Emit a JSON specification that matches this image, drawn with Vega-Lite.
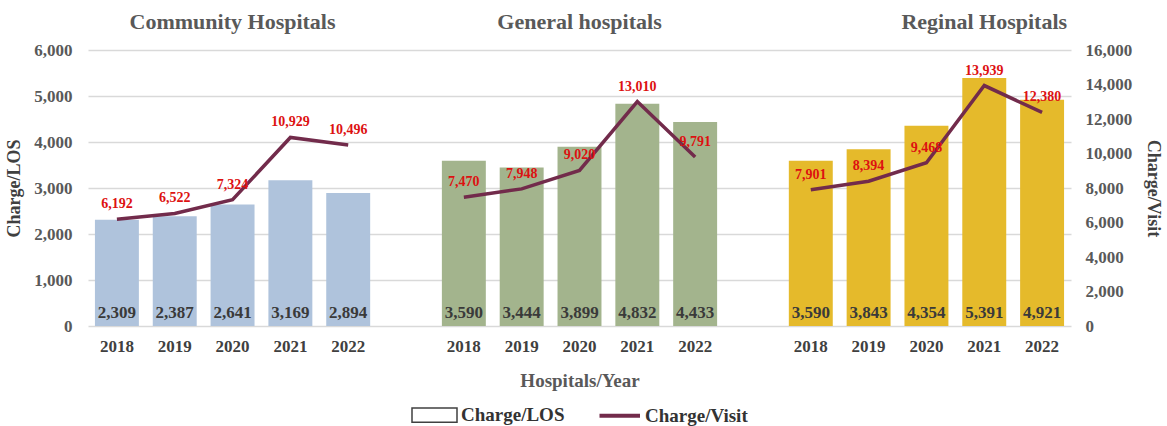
{
  "$schema": "https://vega.github.io/schema/vega-lite/v6.json",
  "width": 1167,
  "height": 426,
  "autosize": {"type": "fit", "contains": "padding"},
  "padding": {"left": 5, "right": 5, "top": 10, "bottom": 0},
  "background": "white",
  "config": {
    "font": "Liberation Serif",
    "view": {"stroke": null},
    "axis": {"labelFont": "Liberation Serif", "titleFont": "Liberation Serif"},
    "legend": {"layout": {"bottom": {"anchor": "middle"}}}
  },
  "datasets": {
    "main": [
      {"group": "Community", "year": "2018", "slot": "C2018", "los": 2309, "visit": 6192},
      {"group": "Community", "year": "2019", "slot": "C2019", "los": 2387, "visit": 6522},
      {"group": "Community", "year": "2020", "slot": "C2020", "los": 2641, "visit": 7324},
      {"group": "Community", "year": "2021", "slot": "C2021", "los": 3169, "visit": 10929},
      {"group": "Community", "year": "2022", "slot": "C2022", "los": 2894, "visit": 10496},
      {"group": "General", "year": "2018", "slot": "G2018", "los": 3590, "visit": 7470},
      {"group": "General", "year": "2019", "slot": "G2019", "los": 3444, "visit": 7948},
      {"group": "General", "year": "2020", "slot": "G2020", "los": 3899, "visit": 9020},
      {"group": "General", "year": "2021", "slot": "G2021", "los": 4832, "visit": 13010},
      {"group": "General", "year": "2022", "slot": "G2022", "los": 4433, "visit": 9791},
      {"group": "Regional", "year": "2018", "slot": "R2018", "los": 3590, "visit": 7901},
      {"group": "Regional", "year": "2019", "slot": "R2019", "los": 3843, "visit": 8394},
      {"group": "Regional", "year": "2020", "slot": "R2020", "los": 4354, "visit": 9468},
      {"group": "Regional", "year": "2021", "slot": "R2021", "los": 5391, "visit": 13939},
      {"group": "Regional", "year": "2022", "slot": "R2022", "los": 4921, "visit": 12380}
    ],
    "legendrows": [
      {"measure": "Charge/LOS"},
      {"measure": "Charge/Visit"}
    ]
  },
  "layer": [
    {
      "data": {"name": "main"},
      "layer": [
        {
          "mark": {"type": "bar"},
          "encoding": {
            "x": {
              "field": "slot", "type": "nominal", "sort": null,
              "scale": {"domain": ["C2018","C2019","C2020","C2021","C2022","X1","G2018","G2019","G2020","G2021","G2022","X2","R2018","R2019","R2020","R2021","R2022"], "paddingInner": 0.24, "paddingOuter": 0.12},
              "axis": {
                "orient": "bottom", "title": "Hospitals/Year",
                "labelExpr": "length(datum.value) < 5 ? '' : substring(datum.value, 1, 5)",
                "labelAngle": 0, "ticks": false, "domain": false, "labelPadding": 12,
                "labelFontSize": 17, "labelFontWeight": "bold", "labelColor": "#404040",
                "titleFontSize": 19, "titleFontWeight": "bold", "titleColor": "#595959", "titlePadding": 17
              }
            },
            "y": {
              "field": "los", "type": "quantitative",
              "scale": {"domain": [0, 6000], "nice": false},
              "axis": {
                "title": "Charge/LOS", "format": ",.0f", "values": [0,1000,2000,3000,4000,5000,6000],
                "grid": true, "gridColor": "#d9d9d9", "gridWidth": 1.5, "ticks": false, "domain": false, "labelOverlap": false,
                "labelPadding": 16, "labelFontSize": 17, "labelFontWeight": "bold", "labelColor": "#595959",
                "titleFontSize": 18, "titleFontWeight": "bold", "titleColor": "#404040", "titlePadding": 10
              }
            },
            "color": {
              "field": "group", "type": "nominal",
              "scale": {"domain": ["Community", "General", "Regional"], "range": ["#afc3dc", "#a3b48d", "#e5ba2b"]},
              "legend": null
            }
          }
        },
        {
          "mark": {"type": "text", "baseline": "middle", "dy": -13, "fontSize": 17, "fontWeight": "bold", "color": "#3a3a3a"},
          "encoding": {
            "x": {"field": "slot", "type": "nominal", "sort": null},
            "y": {"datum": 0},
            "text": {"field": "los", "type": "quantitative", "format": ","}
          }
        }
      ]
    },
    {
      "data": {"name": "main"},
      "layer": [
        {
          "mark": {"type": "line", "color": "#722b4b", "strokeWidth": 3.5},
          "encoding": {
            "x": {
              "field": "slot", "type": "nominal", "sort": null,
              "scale": {"domain": ["C2018","C2019","C2020","C2021","C2022","X1","G2018","G2019","G2020","G2021","G2022","X2","R2018","R2019","R2020","R2021","R2022"], "paddingInner": 0.24, "paddingOuter": 0.12},
              "axis": {
                "orient": "top", "title": null, "bandPosition": 0,
                "labelExpr": "datum.value == 'C2020' ? 'Community Hospitals' : datum.value == 'G2020' ? 'General hospitals' : datum.value == 'R2021' ? 'Reginal Hospitals' : ''",
                "ticks": false, "domain": false, "labelAngle": 0, "labelAlign": "center", "labelOverlap": false,
                "labelFontSize": 22, "labelFontWeight": "bold", "labelColor": "#595959", "labelPadding": 17, "labelLimit": 400
              }
            },
            "y": {
              "field": "visit", "type": "quantitative",
              "scale": {"domain": [0, 16000], "nice": false},
              "axis": {
                "orient": "right", "title": "Charge/Visit", "format": ",.0f", "values": [0,2000,4000,6000,8000,10000,12000,14000,16000],
                "grid": false, "ticks": false, "domain": false, "labelOverlap": false,
                "labelPadding": 14, "labelFontSize": 17, "labelFontWeight": "bold", "labelColor": "#595959",
                "titleFontSize": 18, "titleFontWeight": "bold", "titleColor": "#404040", "titlePadding": 12
              }
            },
            "detail": {"field": "group"}
          }
        },
        {
          "mark": {"type": "text", "baseline": "bottom", "dy": -8, "fontSize": 14, "fontWeight": "bold", "color": "#dd1111"},
          "encoding": {
            "x": {"field": "slot", "type": "nominal", "sort": null},
            "y": {
              "field": "visit", "type": "quantitative",
              "scale": {"domain": [0, 16000], "nice": false},
              "axis": {
                "orient": "right", "title": "Charge/Visit", "format": ",.0f", "values": [0,2000,4000,6000,8000,10000,12000,14000,16000],
                "grid": false, "ticks": false, "domain": false, "labelOverlap": false,
                "labelPadding": 14, "labelFontSize": 17, "labelFontWeight": "bold", "labelColor": "#595959",
                "titleFontSize": 18, "titleFontWeight": "bold", "titleColor": "#404040", "titlePadding": 12
              }
            },
            "text": {"field": "visit", "type": "quantitative", "format": ","}
          }
        }
      ]
    },
    {
      "data": {"name": "legendrows"},
      "mark": {"type": "point", "opacity": 0, "filled": false},
      "encoding": {
        "shape": {
          "field": "measure", "type": "nominal",
          "scale": {"domain": ["Charge/LOS", "Charge/Visit"], "range": ["M-1,-0.32H1V0.32H-1Z", "M-0.8,0H1"]},
          "legend": {
            "title": null, "orient": "bottom", "direction": "horizontal",
            "symbolSize": 2025, "symbolOpacity": 1, "symbolFillColor": "#ffffff",
            "labelFontSize": 19, "labelFontWeight": "bold", "labelColor": "#333333",
            "labelFont": "Liberation Serif", "columnPadding": 26, "labelOffset": 3, "offset": 1
          }
        },
        "stroke": {
          "field": "measure", "type": "nominal",
          "scale": {"domain": ["Charge/LOS", "Charge/Visit"], "range": ["#404040", "#722b4b"]},
          "legend": {
            "title": null, "orient": "bottom", "direction": "horizontal",
            "symbolSize": 2025, "symbolOpacity": 1, "symbolFillColor": "#ffffff",
            "labelFontSize": 19, "labelFontWeight": "bold", "labelColor": "#333333",
            "labelFont": "Liberation Serif", "columnPadding": 26, "labelOffset": 3, "offset": 1
          }
        },
        "strokeWidth": {
          "field": "measure", "type": "ordinal",
          "scale": {"domain": ["Charge/LOS", "Charge/Visit"], "range": [1.5, 4]},
          "legend": {
            "title": null, "orient": "bottom", "direction": "horizontal",
            "symbolSize": 2025, "symbolOpacity": 1, "symbolFillColor": "#ffffff",
            "labelFontSize": 19, "labelFontWeight": "bold", "labelColor": "#333333",
            "labelFont": "Liberation Serif", "columnPadding": 26, "labelOffset": 3, "offset": 1
          }
        }
      }
    }
  ],
  "resolve": {"scale": {"y": "independent"}, "axis": {"x": "independent", "y": "independent"}}
}
